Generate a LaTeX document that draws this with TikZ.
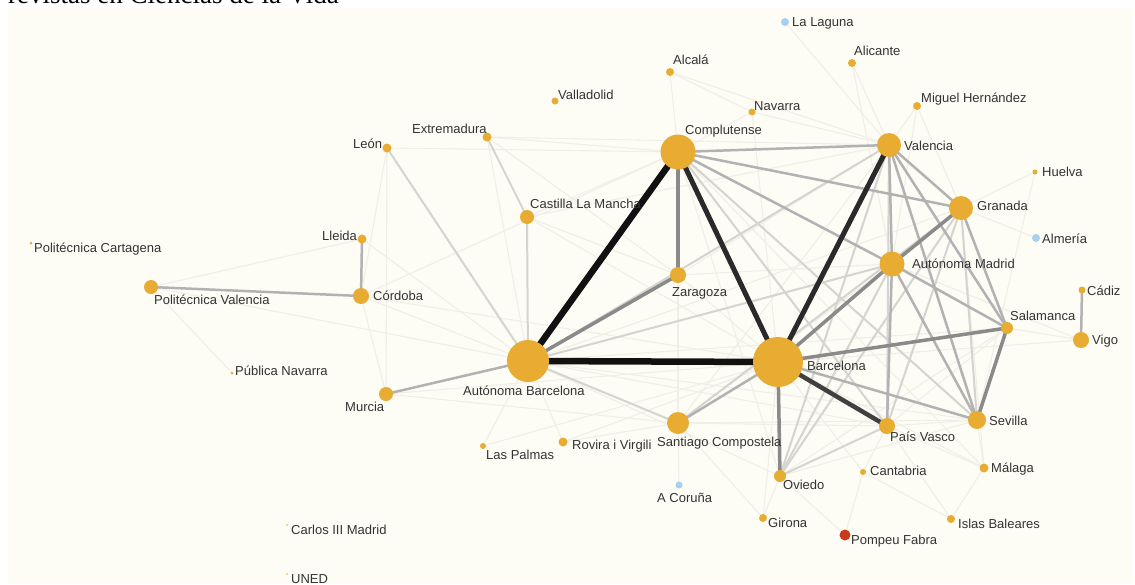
\documentclass[tikz,border=0pt]{standalone}
\usepackage{fontspec}
\setmainfont{Liberation Sans}
\newfontfamily\titlefont{Liberation Serif}
\definecolor{bgc}{HTML}{FDFCF5}
\definecolor{gold}{HTML}{E8AC32}
\definecolor{lblue}{HTML}{A7D0EC}
\definecolor{pred}{HTML}{C8391E}
\definecolor{labc}{HTML}{333333}
\definecolor{ck}{HTML}{111111}
\definecolor{cd}{HTML}{2A2A2A}
\definecolor{cm}{HTML}{404040}
\definecolor{cg}{HTML}{8A8A8A}
\definecolor{cl}{HTML}{B2B2B2}
\definecolor{cll}{HTML}{D4D4D0}
\definecolor{cf}{HTML}{EFEEE7}
\pgfdeclarelayer{bg}
\pgfdeclarelayer{edges}
\pgfsetlayers{bg,edges,main}
\newcommand{\unode}[5]{\node[dot, fill=#5, minimum size=#4*2pt] (#1) at (#2,#3) {};}
\newcommand{\ulab}[4]{\node[lab] (#1) at (#2,#3) {#4};}
\newcommand{\edg}[3]{\draw[#1] (#2.center) -- (#3.center);}
\begin{document}
\begin{tikzpicture}[x=1pt,y=-1pt,
  dot/.style={circle, inner sep=0pt, draw=none},
  lab/.style={anchor=base west, inner sep=0pt, font=\fontsize{13}{15}\selectfont, text=labc},
  ek/.style={draw=ck, line width=6.5pt},
  ed/.style={draw=cd, line width=5pt},
  em/.style={draw=cm, line width=4.5pt},
  eg/.style={draw=cg, line width=3.5pt},
  el/.style={draw=cl, line width=2.5pt},
  ell/.style={draw=cll, line width=2pt},
  ef/.style={draw=cf, line width=1.1pt}]
\useasboundingbox (0,0) rectangle (1135,584);
\node[anchor=base west, inner sep=0pt, font=\titlefont\fontsize{27}{30}\selectfont, text=black] (title) at (8,3.5) {revistas en Ciencias de la Vida};
\begin{pgfonlayer}{bg}
\fill[bgc] (8,8) rectangle (1133,584);
\end{pgfonlayer}
% nodes
\unode{lag}{785}{22}{4}{lblue}
\unode{ali}{852}{63}{4}{gold}
\unode{mh}{917}{106}{4}{gold}
\unode{val}{889}{145}{12}{gold}
\unode{hue}{1035}{172}{2.5}{gold}
\unode{alc}{670}{72}{4}{gold}
\unode{vll}{555}{101}{3.5}{gold}
\unode{nav}{752}{112}{3.5}{gold}
\unode{ext}{487}{137}{4.5}{gold}
\unode{comp}{678}{152}{17.5}{gold}
\unode{leon}{387}{148}{4.5}{gold}
\unode{clm}{527}{217}{7}{gold}
\unode{zar}{678}{275}{8}{gold}
\unode{ab}{528}{361}{21}{gold}
\unode{bcn}{778}{362}{25}{gold}
\unode{gra}{961}{208}{12}{gold}
\unode{alm}{1036}{238}{4}{lblue}
\unode{am}{892}{264}{12.5}{gold}
\unode{cad}{1082}{290}{3.5}{gold}
\unode{sal}{1007}{328}{6}{gold}
\unode{vigo}{1081}{340}{8}{gold}
\unode{lle}{362}{239}{4.5}{gold}
\unode{pcar}{31}{243}{1.5}{gold}
\unode{pval}{151}{287}{7}{gold}
\unode{cor}{361}{296}{8}{gold}
\unode{pnav}{232}{373}{1.5}{gold}
\unode{mur}{386}{394}{7}{gold}
\unode{c3m}{287}{525}{0.8}{gold}
\unode{uned}{287}{574}{0.8}{gold}
\unode{lpal}{483}{446}{3}{gold}
\unode{rov}{563}{442}{4.5}{gold}
\unode{sant}{678}{423}{11}{gold}
\unode{cor2}{679}{485}{3.5}{lblue}
\unode{gir}{763}{518}{4}{gold}
\unode{ovi}{780}{476}{6}{gold}
\unode{pv}{887}{426}{8}{gold}
\unode{sev}{977}{420}{9}{gold}
\unode{cant}{863}{472}{3}{gold}
\unode{mal}{984}{468}{4.5}{gold}
\unode{ib}{951}{519}{4}{gold}
\unode{pf}{845}{535}{5.5}{pred}
% labels
\ulab{llag}{792}{26}{La Laguna}
\ulab{lali}{854}{55}{Alicante}
\ulab{lmh}{921}{102}{Miguel Hernández}
\ulab{lval}{904}{150}{Valencia}
\ulab{lhue}{1042}{176}{Huelva}
\ulab{lalc}{673}{64}{Alcalá}
\ulab{lvll}{558}{99}{Valladolid}
\ulab{lnav}{754}{110}{Navarra}
\ulab{lext}{412}{133}{Extremadura}
\ulab{lcomp}{685}{134}{Complutense}
\ulab{lleon}{353}{148}{León}
\ulab{lclm}{530}{208}{Castilla La Mancha}
\ulab{lzar}{672}{296}{Zaragoza}
\ulab{lab}{463}{395}{Autónoma Barcelona}
\ulab{lgra}{977}{210}{Granada}
\ulab{lalm}{1042}{243}{Almería}
\ulab{lam}{912}{268}{Autónoma Madrid}
\ulab{lcad}{1087}{295}{Cádiz}
\ulab{lsal}{1010}{320}{Salamanca}
\ulab{lvigo}{1092}{344}{Vigo}
\ulab{lbcn}{807}{370}{Barcelona}
\ulab{llle}{322}{240}{Lleida}
\ulab{lpcar}{34}{252}{Politécnica Cartagena}
\ulab{lpval}{154}{304}{Politécnica Valencia}
\ulab{lcor}{373}{300}{Córdoba}
\ulab{lpnav}{235}{375}{Pública Navarra}
\ulab{lmur}{345}{411}{Murcia}
\ulab{lc3m}{291}{534}{Carlos III Madrid}
\ulab{luned}{291}{583}{UNED}
\ulab{llpal}{486}{459}{Las Palmas}
\ulab{lrov}{572}{449}{Rovira i Virgili}
\ulab{lsant}{657}{446}{Santiago Compostela}
\ulab{lcor2}{657}{502}{A Coruña}
\ulab{lgir}{768}{527}{Girona}
\ulab{lovi}{783}{489}{Oviedo}
\ulab{lpv}{890}{441}{País Vasco}
\ulab{lsev}{989}{425}{Sevilla}
\ulab{lcant}{870}{475}{Cantabria}
\ulab{lmal}{991}{472}{Málaga}
\ulab{lib}{958}{528}{Islas Baleares}
\ulab{lpf}{851}{544}{Pompeu Fabra}
\begin{pgfonlayer}{edges}
% faint edges
\edg{ef}{lag}{val}\edg{ef}{ali}{val}\edg{ef}{ali}{am}
\edg{ef}{mh}{val}\edg{ef}{mh}{gra}\edg{ef}{mh}{am}\edg{ef}{alc}{comp}\edg{ef}{alc}{nav}
\edg{ef}{alc}{val}\edg{ef}{nav}{val}\edg{ef}{nav}{comp}\edg{ef}{nav}{bcn}
\edg{ef}{ext}{comp}\edg{ef}{ext}{ab}\edg{ef}{ext}{val}\edg{ef}{ext}{zar}
\edg{ef}{leon}{mur}\edg{ef}{leon}{cor}\edg{ef}{leon}{comp}
\edg{ef}{clm}{comp}\edg{ef}{clm}{bcn}\edg{ef}{clm}{zar}\edg{ef}{clm}{val}
\edg{ef}{lle}{pval}\edg{ef}{lle}{ab}\edg{ef}{pval}{pnav}\edg{ef}{pval}{ab}
\edg{ef}{cor}{ab}\edg{ef}{cor}{mur}\edg{ef}{cor}{comp}\edg{ef}{cor}{bcn}
\edg{ef}{mur}{bcn}\edg{ef}{mur}{sant}\edg{ef}{lpal}{ab}\edg{ef}{lpal}{bcn}
\edg{ef}{rov}{ab}\edg{ef}{rov}{bcn}\edg{ef}{rov}{sant}\edg{ef}{sant}{cor2}
\edg{ef}{sant}{comp}\edg{ef}{sant}{am}\edg{ef}{sant}{val}\edg{ef}{sant}{sev}
\edg{ef}{sant}{pv}\edg{ef}{zar}{bcn}\edg{ef}{zar}{val}\edg{ef}{zar}{am}
\edg{ef}{gir}{ovi}\edg{ef}{gir}{bcn}\edg{ef}{gir}{sant}\edg{ef}{cant}{bcn}\edg{ef}{cant}{pf}
\edg{ef}{cant}{ib}\edg{ef}{cant}{pv}\edg{ef}{ib}{mal}\edg{ef}{ib}{pv}\edg{ef}{mal}{sev}
\edg{ef}{mal}{pv}\edg{ef}{mal}{gra}\edg{ef}{mal}{bcn}\edg{ef}{hue}{gra}\edg{ef}{hue}{sev}
\edg{ef}{vigo}{sal}\edg{ef}{vigo}{bcn}\edg{ef}{vigo}{am}\edg{ef}{alm}{gra}
\edg{ef}{ovi}{sev}\edg{ef}{ovi}{sal}\edg{ef}{pv}{sev}\edg{ef}{pv}{sal}
\edg{ef}{comp}{ovi}\edg{ef}{ab}{pv}\edg{ef}{ab}{ovi}\edg{ef}{ab}{gra}
\edg{ef}{ab}{sev}\edg{ef}{ab}{sal}\edg{ef}{comp}{mal}\edg{ef}{pf}{ovi}
% light edges
\edg{ell}{comp}{sev}\edg{ell}{am}{ovi}\edg{ell}{val}{ovi}\edg{ell}{gra}{sant}
\edg{ell}{comp}{pv}\edg{ell}{ab}{sant}\edg{ell}{ab}{am}\edg{ell}{ab}{val}
\edg{ell}{leon}{ab}\edg{ell}{ext}{clm}\edg{ell}{clm}{ab}\edg{ell}{pv}{ovi}
\edg{ell}{gra}{ovi}\edg{ell}{gra}{pv}\edg{ell}{gra}{sev}\edg{ell}{val}{pv}
% medium-light edges
\edg{el}{comp}{val}\edg{el}{comp}{gra}\edg{el}{comp}{am}\edg{el}{am}{sal}
\edg{el}{bcn}{sant}\edg{el}{mur}{ab}\edg{el}{val}{am}\edg{el}{val}{gra}
\edg{el}{val}{sal}\edg{el}{val}{sev}\edg{el}{am}{pv}\edg{el}{bcn}{sev}
\edg{el}{lle}{cor}\edg{el}{pval}{cor}\edg{el}{cad}{vigo}\edg{el}{gra}{sal}
\edg{el}{am}{sev}
% gray edges
\edg{eg}{comp}{zar}\edg{eg}{ab}{zar}\edg{eg}{bcn}{am}\edg{eg}{am}{gra}
\edg{eg}{bcn}{sal}\edg{eg}{bcn}{ovi}\edg{eg}{sal}{sev}
% dark edges
\edg{em}{bcn}{pv}
\edg{ed}{val}{bcn}
\edg{ed}{comp}{bcn}
\edg{ek}{comp}{ab}
\edg{ek}{ab}{bcn}
\end{pgfonlayer}
\end{tikzpicture}
\end{document}
